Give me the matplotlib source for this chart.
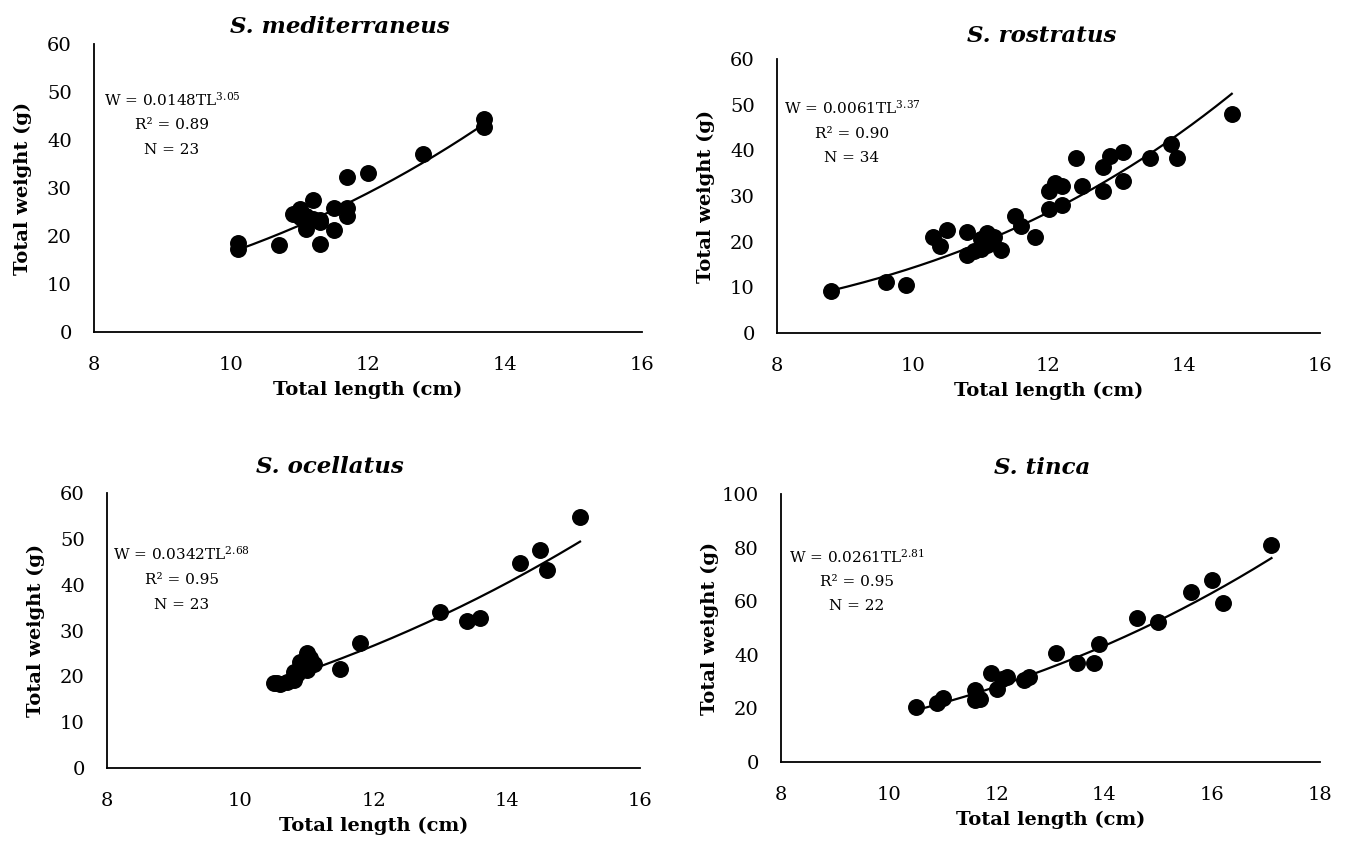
import numpy as np
import matplotlib
matplotlib.use('Agg')
import matplotlib.pyplot as plt

plt.rcParams['font.family'] = ['DejaVu Serif']
plt.rcParams['mathtext.fontset'] = 'dejavuserif'

# S. mediterraneus (total length cm, total weight g)
med_tl = [10.1, 10.1, 10.7, 10.9, 11.0, 11.2, 11.1, 11.1, 11.1, 11.3, 11.3, 11.5,
          11.5, 11.7, 11.7, 11.7, 12.0, 12.8, 13.7, 13.7, 11.0, 11.2, 11.3]
med_tw = [18.6, 17.3, 18.2, 24.6, 25.6, 27.4, 24.2, 22.6, 21.5, 23.4, 18.3, 25.8,
          21.3, 32.2, 25.8, 24.2, 33.1, 37.0, 44.4, 42.7, 24.0, 23.5, 23.0]

# S. rostratus
ros_tl = [8.8, 9.6, 9.9, 10.3, 10.4, 10.5, 10.8, 10.8, 10.9, 11.0, 11.1, 11.1,
          11.2, 11.3, 11.5, 11.6, 11.8, 12.0, 12.0, 12.1, 12.2, 12.2, 12.4, 12.5,
          12.8, 12.8, 12.9, 13.1, 13.1, 13.5, 13.8, 13.9, 14.7, 11.0]
ros_tw = [9.1, 11.2, 10.6, 21.1, 19.1, 22.5, 22.2, 17.1, 17.9, 18.4, 21.9, 19.3,
          21.1, 18.2, 25.7, 23.5, 21.1, 27.1, 31.2, 32.8, 32.2, 28.1, 38.3, 32.2,
          31.2, 36.3, 38.8, 39.7, 33.2, 38.3, 41.4, 38.3, 48.0, 20.5]

# S. ocellatus
oce_tl = [10.5, 10.6, 10.8, 10.8, 10.9, 11.0, 11.0, 11.1, 11.5, 11.8, 13.0, 13.4,
          13.6, 14.2, 14.5, 14.6, 15.1, 10.55, 10.7, 10.85, 10.95, 11.05, 11.0]
oce_tw = [18.6, 18.4, 19.2, 21.0, 23.2, 25.1, 21.4, 22.7, 21.5, 27.2, 34.1, 32.1,
          32.8, 44.7, 47.6, 43.1, 54.8, 18.5, 18.8, 20.5, 22.0, 24.0, 23.5]

# S. tinca
tin_tl = [10.5, 10.9, 11.0, 11.6, 11.6, 11.7, 11.9, 12.0, 12.2, 12.1, 12.5,
          12.6, 13.1, 13.5, 13.8, 13.9, 14.6, 15.0, 15.6, 16.0, 16.2, 17.1]
tin_tw = [20.6, 22.1, 23.8, 26.9, 23.1, 23.4, 33.3, 27.1, 31.6, 31.0, 30.6,
          31.8, 40.6, 36.8, 36.8, 44.0, 53.6, 52.4, 63.5, 67.9, 59.4, 81.0]

species = ['S. mediterraneus', 'S. rostratus', 'S. ocellatus', 'S. tinca']
lengths = [med_tl, ros_tl, oce_tl, tin_tl]
weights = [med_tw, ros_tw, oce_tw, tin_tw]
coef_a = [0.0148, 0.0061, 0.0342, 0.0261]
coef_b = [3.05, 3.37, 2.68, 2.81]
r2 = ['0.89', '0.90', '0.95', '0.95']
n_fish = [23, 34, 23, 22]
x_max = [16, 16, 16, 18]
y_max = [60, 60, 60, 100]
y_step = [10, 10, 10, 20]

W, H = 1345, 841
fig = plt.figure(figsize=(W / 100, H / 100), dpi=100)

# plot areas in pixels: left, top, right, bottom
boxes = [(94, 44, 642, 332), (777, 59, 1320, 333),
         (107, 493, 640, 768), (781, 494, 1320, 762)]
title_x = [340, 1042, 330, 1042]
title_gap = [11, 17, 20, 20]
note_x = [172, 852, 182, 857]
note_y = [(100, 125, 150), (108, 134, 158), (554, 580, 605), (557, 582, 606)]

for i in range(4):
    l, t, r, b = boxes[i]
    wpx, hpx = r - l, b - t
    ax = fig.add_axes([l / W, 1 - b / H, wpx / W, hpx / H])

    #points and power trendline
    ax.scatter(lengths[i], weights[i], s=125, color='black', zorder=3, clip_on=False)
    xs = np.linspace(min(lengths[i]), max(lengths[i]), 200)
    ax.plot(xs, coef_a[i] * xs ** coef_b[i], color='black', lw=1.6, zorder=2)

    ax.set_xlim(8, x_max[i])
    ax.set_ylim(0, y_max[i])
    ax.set_xticks(range(8, x_max[i] + 1, 2))
    ax.set_yticks(range(0, y_max[i] + 1, y_step[i]))
    for side in ['top', 'right']:
        ax.spines[side].set_visible(False)
    for side in ['left', 'bottom']:
        ax.spines[side].set_linewidth(1.3)
        ax.spines[side].set_color('black')
    ax.tick_params(length=0, labelsize=14)
    ax.tick_params(axis='x', pad=17)
    ax.tick_params(axis='y', pad=16)

    ax.set_xlabel('Total length (cm)', fontsize=14, fontweight='bold')
    ax.xaxis.set_label_coords(0.5, -49 / hpx)
    ax.set_ylabel('Total weight (g)', fontsize=14, fontweight='bold')
    ax.yaxis.set_label_coords(-62 / wpx, 0.5)

    ax.text((title_x[i] - l) / wpx, 1 + title_gap[i] / hpx, species[i],
            transform=ax.transAxes, ha='center', va='baseline',
            fontsize=16.5, fontweight='bold', style='italic')

    #equation box
    lines = ['W = %.4fTL$^{%.2f}$' % (coef_a[i], coef_b[i]),
             'R² = ' + r2[i],
             'N = %d' % n_fish[i]]
    for txt, ypx in zip(lines, note_y[i]):
        ax.text((note_x[i] - l) / wpx, (b - ypx) / hpx, txt, transform=ax.transAxes,
                ha='center', va='center', fontsize=11)

fig.savefig('out.png', dpi=100)
